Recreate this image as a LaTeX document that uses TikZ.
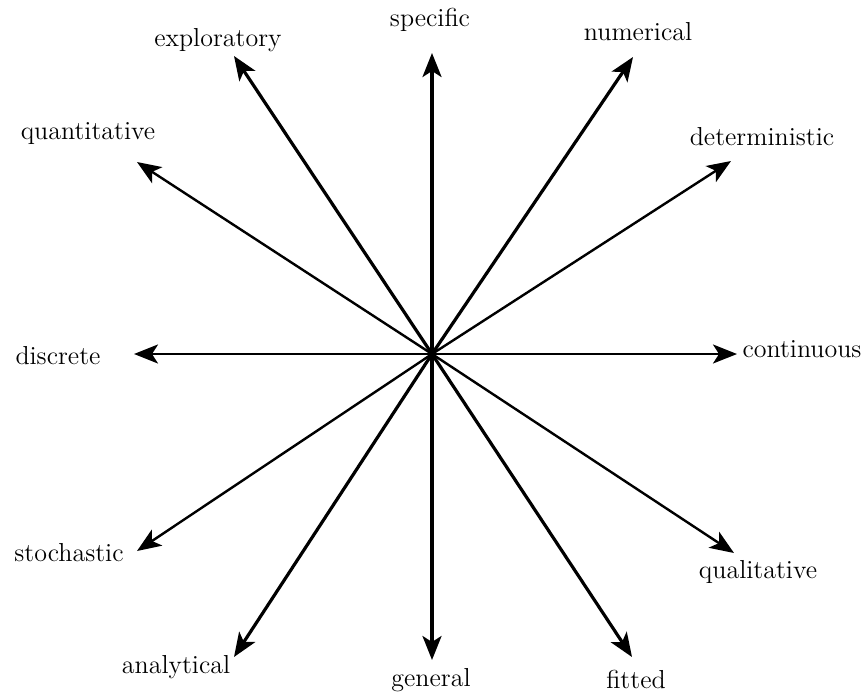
\documentclass[tikz,border=0pt]{standalone}
\usepackage{tikz}
\usetikzlibrary{arrows.meta}
\tikzset{
	axis/.style={line width=1.6pt, -{Stealth[length=12pt,width=9.5pt,inset=3pt]}},
	thinaxis/.style={axis, line width=1.2pt},
	lbl/.style={inner sep=0pt, font=\fontsize{13}{15}\selectfont}
}
\begin{document}
\begin{tikzpicture}[x=0.5pt,y=-0.5pt]
	\useasboundingbox (0,0) rectangle (865,691);
	\coordinate (O) at (432,354);
	% tips
	\coordinate (spec) at (432,53);
	\coordinate (num) at (633,57);
	\coordinate (det) at (731,161);
	\coordinate (cont) at (737,354);
	\coordinate (qual) at (734,553);
	\coordinate (fit) at (632,657);
	\coordinate (gen) at (432,660);
	\coordinate (ana) at (234,657);
	\coordinate (stoch) at (137,551);
	\coordinate (disc) at (134,354);
	\coordinate (quant) at (137,162);
	\coordinate (expl) at (234,56);
	% labels
	\node[lbl] (specL) at (430,20) {specific};
	\node[lbl] (numL) at (638,32) {numerical};
	\node[lbl] (detL) at (762,137) {deterministic};
	\node[lbl] (contL) at (802,349) {continuous};
	\node[lbl] (qualL) at (758,572) {qualitative};
	\node[lbl] (fitL) at (636,679) {fitted};
	\node[lbl] (genL) at (431,680) {general};
	\node[lbl] (anaL) at (176,667) {analytical};
	\node[lbl] (stochL) at (69,553) {stochastic};
	\node[lbl] (discL) at (58,356) {discrete};
	\node[lbl] (quantL) at (88,134) {quantitative};
	\node[lbl] (explL) at (218,40) {exploratory};
	% arrows
	\draw[axis] (O) -- (spec);
	\draw[axis] (O) -- (gen);
	\draw[axis] (O) -- (num);
	\draw[axis] (O) -- (fit);
	\draw[axis] (O) -- (ana);
	\draw[axis] (O) -- (expl);
	\draw[thinaxis] (O) -- (cont);
	\draw[thinaxis] (O) -- (disc);
	\draw[thinaxis] (O) -- (det);
	\draw[thinaxis] (O) -- (qual);
	\draw[thinaxis] (O) -- (stoch);
	\draw[thinaxis] (O) -- (quant);
\end{tikzpicture}
\end{document}
